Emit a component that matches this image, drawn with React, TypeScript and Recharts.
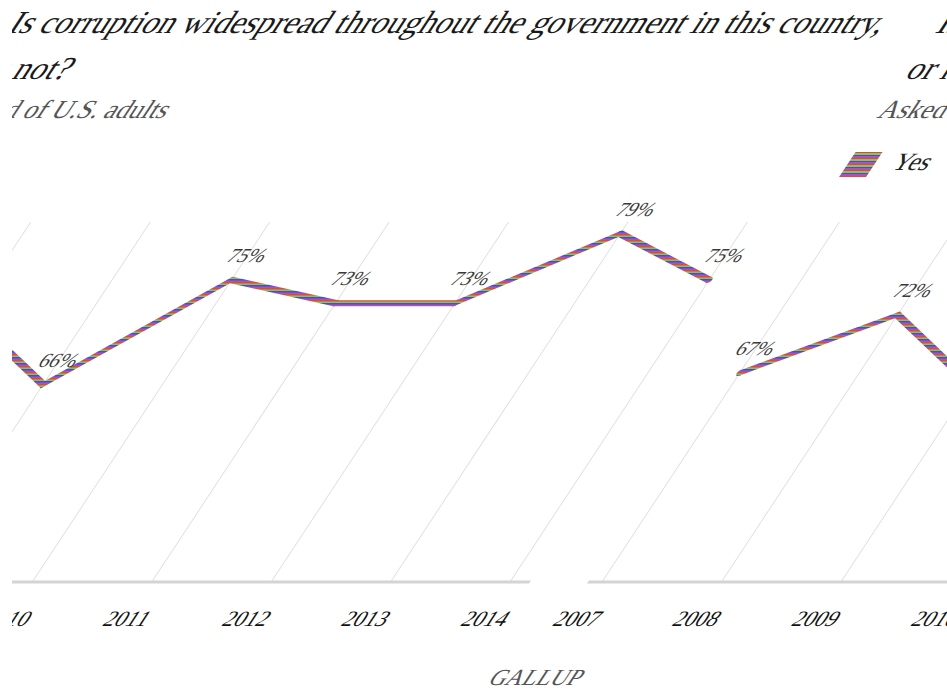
import React from 'react';
import { LineChart, Line, XAxis, YAxis, CartesianGrid, LabelList } from 'recharts';

// ---- data ----
const years = ['2007', '2008', '2009', '2010', '2011', '2012', '2013', '2014'];
const yesValues = [67, 72, 66, 75, 73, 73, 79, 75];
const titleLines = ['Is corruption widespread throughout the government in this country,', 'or not?'];
const subtitle = 'Asked of U.S. adults';
const seriesName = 'Yes';
const sourceLabel = 'GALLUP';

const data = years.map((year, i) => ({ year, yes: yesValues[i] }));

// ---- layout / style ----
const SKEW = 'skewX(-33.4deg)';
const BASE_Y = 582;
const X_AXIS_H = 30;
const PANEL_W = 1060;
const H = 698;
const FONT = '"Liberation Serif", "DejaVu Serif", serif';
const STRIPES = ['#e0483f', '#8cc63f', '#3f4fd8', '#b04fc0'];

function Panel({ left, uid }: { left: number; uid: string }) {
  const pid = `stripes-${uid}`;
  return (
    <div
      style={{
        position: 'absolute',
        left,
        top: 0,
        width: PANEL_W,
        height: H,
        transform: SKEW,
        transformOrigin: `0px ${BASE_Y}px`,
      }}
    >
      <div
        style={{
          position: 'absolute',
          left: 14,
          top: -1,
          fontFamily: FONT,
          fontSize: 32,
          lineHeight: '46px',
          color: '#1a1a1a',
          whiteSpace: 'nowrap',
        }}
      >
        {titleLines.map((l) => (
          <div key={l}>{l}</div>
        ))}
      </div>
      <div
        style={{
          position: 'absolute',
          left: 12,
          top: 95,
          fontFamily: FONT,
          fontSize: 26,
          lineHeight: '30px',
          color: '#555',
          whiteSpace: 'nowrap',
        }}
      >
        {subtitle}
      </div>
      <div
        style={{
          position: 'absolute',
          left: 942,
          top: 152,
          width: 27,
          height: 25,
          background: `repeating-linear-gradient(to bottom, ${STRIPES[0]} 0px, ${STRIPES[0]} 1.5px, ${STRIPES[1]} 1.5px, ${STRIPES[1]} 3px, ${STRIPES[2]} 3px, ${STRIPES[2]} 4.5px, ${STRIPES[3]} 4.5px, ${STRIPES[3]} 6px)`,
        }}
      />
      <div
        style={{
          position: 'absolute',
          left: 988,
          top: 147,
          fontFamily: FONT,
          fontSize: 25,
          lineHeight: '30px',
          color: '#222',
          whiteSpace: 'nowrap',
        }}
      >
        {seriesName}
      </div>
      <div
        style={{
          position: 'absolute',
          left: 920,
          top: 664,
          width: 100,
          textAlign: 'center',
          fontFamily: FONT,
          fontSize: 23,
          lineHeight: '28px',
          color: '#555',
          whiteSpace: 'nowrap',
        }}
      >
        {sourceLabel}
      </div>
      <div style={{ position: 'absolute', left: 0, top: 0 }}>
        <LineChart
          width={PANEL_W}
          height={H}
          data={data}
          margin={{ top: 222, right: PANEL_W - 900, bottom: H - BASE_Y - X_AXIS_H, left: 30 }}
        >
          <defs>
            <pattern id={pid} width={8} height={6} patternUnits="userSpaceOnUse">
              {STRIPES.map((c, i) => (
                <rect key={c} x={0} y={i * 1.5} width={8} height={1.5} fill={c} />
              ))}
            </pattern>
          </defs>
          <CartesianGrid vertical horizontal={false} syncWithTicks stroke="#dcdcdc" />
          <XAxis
            dataKey="year"
            height={X_AXIS_H}
            padding={{ left: 14, right: 20 }}
            axisLine={{ stroke: '#d4d4d4', strokeWidth: 3 }}
            tickLine={false}
            tickMargin={22}
            interval={0}
            tick={{ fontFamily: FONT, fontSize: 22, fill: '#111' }}
          />
          <YAxis hide domain={[49, 80]} />
          <Line
            dataKey="yes"
            name={seriesName}
            stroke={`url(#${pid})`}
            strokeWidth={6}
            dot={{ r: 3, fill: `url(#${pid})`, stroke: 'none' }}
            isAnimationActive={false}
          >
            <LabelList
              dataKey="yes"
              position="top"
              offset={18}
              formatter={(v: any) => `${v}%`}
              style={{ fontFamily: FONT, fontSize: 20, fill: '#3a3a3a' }}
            />
          </Line>
        </LineChart>
      </div>
    </div>
  );
}

export default function App() {
  const CLIP_X = 12;
  return (
    <div style={{ position: 'absolute', left: 0, top: 0, width: 947, height: H, overflow: 'hidden', background: '#fff' }}>
      <div style={{ position: 'absolute', left: CLIP_X, top: 0, width: 947 - CLIP_X, height: H, overflow: 'hidden' }}>
        <Panel left={-370.5 - CLIP_X} uid="a" />
        <Panel left={558 - CLIP_X} uid="b" />
      </div>
    </div>
  );
}
